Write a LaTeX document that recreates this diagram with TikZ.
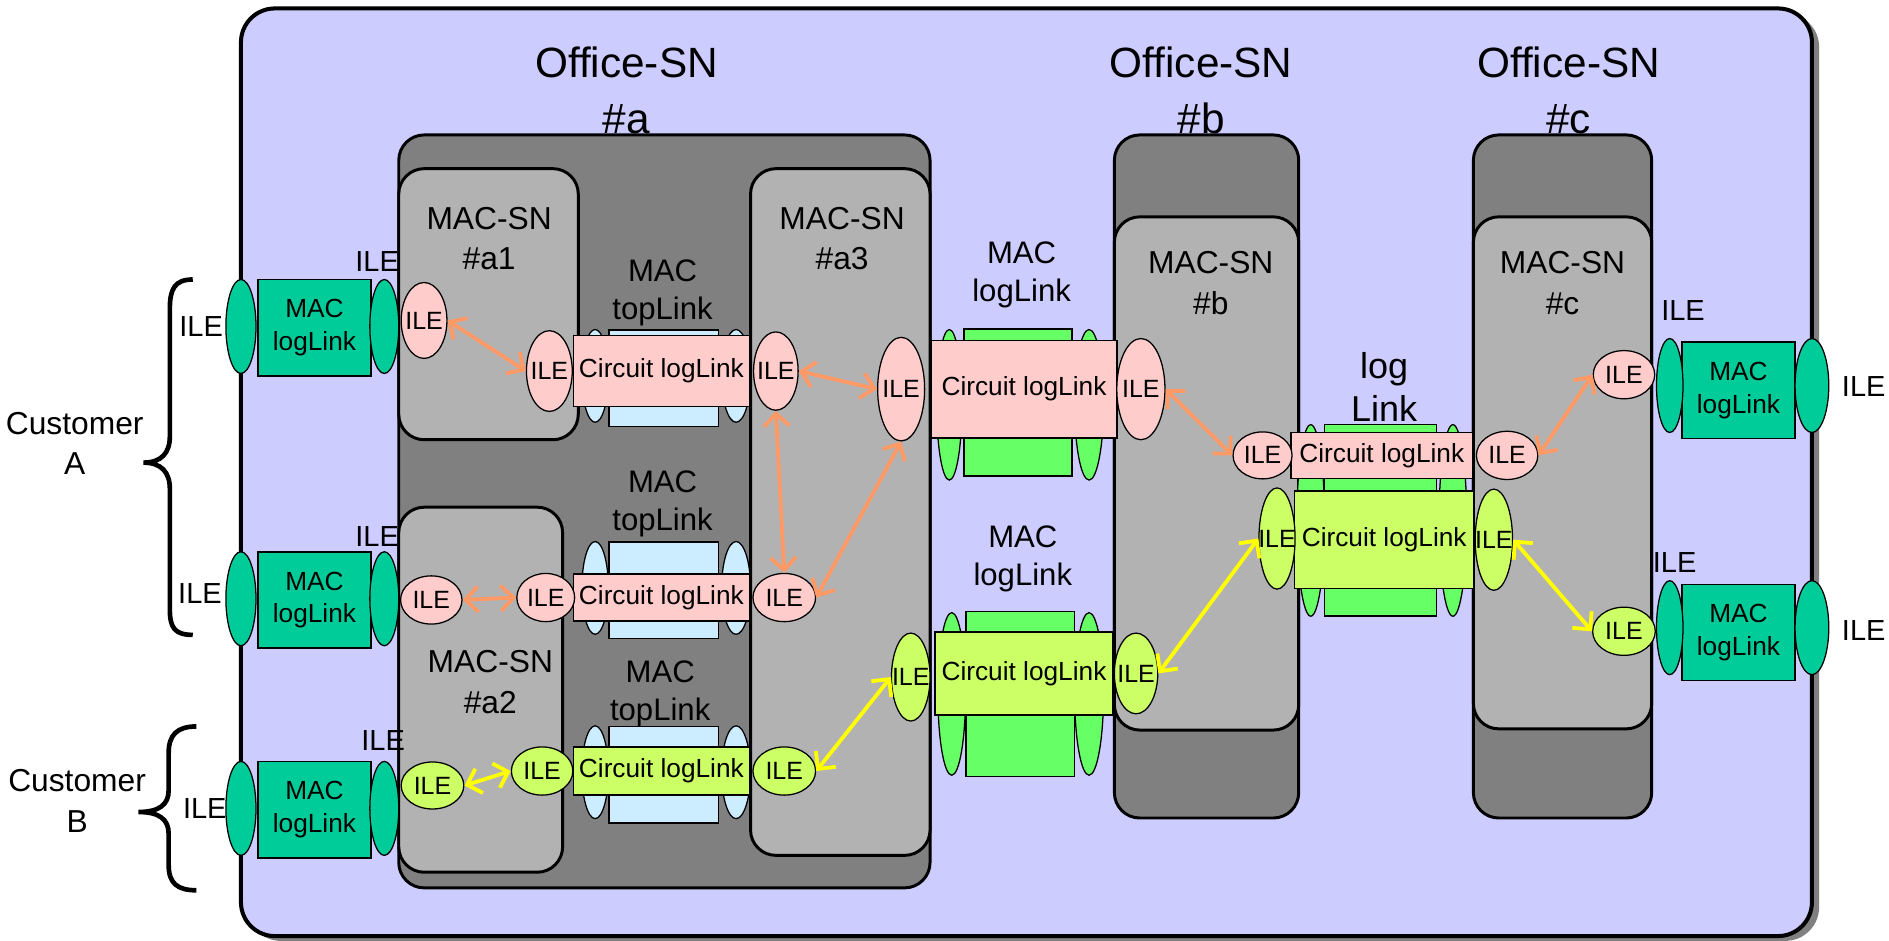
\documentclass[tikz,border=0pt]{standalone}
\usepackage{fontspec}
\setmainfont{Liberation Sans}
\usetikzlibrary{arrows.meta}
\usetikzlibrary{shapes.geometric}

\definecolor{lavender}{HTML}{CCCCFF}
\definecolor{officegray}{HTML}{808080}
\definecolor{macgray}{HTML}{B2B2B2}
\definecolor{pinkile}{HTML}{FFCCCC}
\definecolor{limeile}{HTML}{CCFF66}
\definecolor{macteal}{HTML}{00CC99}
\definecolor{loggreen}{HTML}{66FF66}
\definecolor{topblue}{HTML}{CCECFF}
\definecolor{arrorange}{HTML}{FF9966}
\definecolor{arryellow}{HTML}{FFFF00}

\newcommand{\unitpx}{0.02cm}
\newcommand{\ile}{\makebox[0pt]{ILE}}

\tikzset{
  sz/.style args={#1x#2}{minimum width=#1*\unitpx, minimum height=#2*\unitpx},
  outerbox/.style={draw, line width=1.9pt, fill=lavender, rounded corners=16pt},
  officebox/.style={draw, line width=1.4pt, fill=officegray, rounded corners=12pt},
  macbox/.style={draw, line width=1.4pt, fill=macgray, rounded corners=12pt},
  ileell/.style={ellipse, draw, line width=0.6pt, inner sep=0pt, font=\fontsize{11.8}{13}\selectfont},
  linkell/.style={ellipse, draw, line width=0.6pt, inner sep=0pt},
  linkbox/.style={rectangle, draw, line width=0.7pt, inner sep=0pt, align=center, font=\fontsize{12.4}{15.4}\selectfont},
  officelabel/.style={align=center, font=\fontsize{20}{26}\selectfont},
  maclabel/.style={align=center, font=\fontsize{15}{19.3}\selectfont},
  linklabel/.style={align=center, font=\fontsize{14.7}{18}\selectfont},
  loglabel/.style={align=center, font=\fontsize{17}{20.5}\selectfont},
  ilelabel/.style={inner sep=0pt, font=\fontsize{13.7}{16}\selectfont},
  custlabel/.style={align=center, font=\fontsize{15}{19.3}\selectfont},
  custbrace/.style={line width=2.2pt},
  orangelink/.style={<->, >={Straight Barb[length=6pt,width=12pt]}, line width=1.8pt, draw=arrorange},
  yellowlink/.style={<->, >={Straight Barb[length=6pt,width=12pt]}, line width=1.8pt, draw=arryellow}
}

\begin{document}
\begin{tikzpicture}[x=0.02cm, y=-0.02cm]
  \useasboundingbox (0,0) rectangle (1568,781);

  % domain and switching nodes
  \fill[gray, rounded corners=16pt] (205,11) rectangle (1510,781);
  \draw[outerbox] (200,7) rectangle (1504,777);
  \draw[officebox] (331,112) rectangle (772,737);
  \draw[officebox] (925,112) rectangle (1078,679);
  \draw[officebox] (1223,112) rectangle (1371,679);
  \draw[macbox] (331,140) rectangle (480,365);
  \draw[macbox] (331,421) rectangle (467,724);
  \draw[macbox] (623,140) rectangle (772,710);
  \draw[macbox] (925,180) rectangle (1078,606);
  \draw[macbox] (1223,180) rectangle (1371,605);

  \node[officelabel] (offa) at (520,75) {Office-SN\\\#a};
  \node[officelabel] (offb) at (997,75) {Office-SN\\\#b};
  \node[officelabel] (offc) at (1302,75) {Office-SN\\\#c};
  \node[maclabel] (maca1) at (406,198) {MAC-SN\\\#a1};
  \node[maclabel] (maca2) at (407,566) {MAC-SN\\\#a2};
  \node[maclabel] (maca3) at (699,198) {MAC-SN\\\#a3};
  \node[maclabel] (macb) at (1005,235) {MAC-SN\\\#b};
  \node[maclabel] (macc) at (1297,235) {MAC-SN\\\#c};

  % MAC topLinks inside Office-SN #a
  \foreach \y [count=\i] in {312,488,641} {
    \node[linkbox, fill=topblue, sz=91x80] (tb\i) at (551,\y+2) {};
    \node[linkell, fill=topblue, sz=22x77] (tle\i) at (494,\y) {};
    \node[linkell, fill=topblue, sz=24x77] (tre\i) at (611,\y) {};
  }

  % MAC logLinks to the customers
  \foreach \y [count=\i] in {271,497,671} {
    \node[linkbox, fill=macteal, sz=94x80] (cm\i) at (261,\y+1) {MAC\\logLink};
    \node[linkell, fill=macteal, sz=25x78] (cl\i) at (200,\y) {};
    \node[linkell, fill=macteal, sz=24x78] (cr\i) at (319,\y) {};
  }
  \foreach \y [count=\i] in {320,521} {
    \node[linkbox, fill=macteal, sz=94x80] (em\i) at (1443,\y+4) {MAC\\logLink};
    \node[linkell, fill=macteal, sz=22x78] (el\i) at (1386,\y) {};
    \node[linkell, fill=macteal, sz=28x78] (er\i) at (1504,\y) {};
  }

  % MAC logLinks between offices
  \node[linkell, fill=loggreen, sz=21x125] (ab1l) at (788,336) {};
  \node[linkell, fill=loggreen, sz=24x125] (ab1r) at (904,336) {};
  \node[linkbox, fill=loggreen, sz=90x122] (ab1m) at (845,334) {};
  \node[linkell, fill=loggreen, sz=23x135] (ab2l) at (790,576) {};
  \node[linkell, fill=loggreen, sz=24x135] (ab2r) at (904,576) {};
  \node[linkbox, fill=loggreen, sz=90x137] (ab2m) at (847,576) {};
  \node[linkell, fill=loggreen, sz=23x159] (bcl) at (1088,432) {};
  \node[linkell, fill=loggreen, sz=23x159] (bcr) at (1206,432) {};
  \node[linkbox, fill=loggreen, sz=93x159] (bcm) at (1146,432) {};

  % circuit logLinks
  \node[linkbox, fill=pinkile, sz=146x59] (cir1) at (549,308) {Circuit logLink};
  \node[linkbox, fill=pinkile, sz=146x39] (cir2) at (549,496) {Circuit logLink};
  \node[linkbox, fill=limeile, sz=146x40] (cir3) at (549,640) {Circuit logLink};
  \node[linkbox, fill=pinkile, sz=154x81] (cir4) at (850,323) {Circuit logLink};
  \node[linkbox, fill=limeile, sz=148x69] (cir5) at (850,559) {Circuit logLink};
  \node[linkbox, fill=pinkile, sz=151x38] (cir6) at (1147,378) {Circuit logLink};
  \node[linkbox, fill=limeile, sz=149x81] (cir7) at (1149,448) {Circuit logLink};

  % ILEs
  \node[ileell, fill=pinkile, sz=38x63] (a1l) at (352,266) {\ile};
  \node[ileell, fill=pinkile, sz=38x67] (a1r) at (456,308) {\ile};
  \node[ileell, fill=pinkile, sz=51x40] (a2l) at (358,498) {\ile};
  \node[ileell, fill=pinkile, sz=48x40] (a2r) at (453,496) {\ile};
  \node[ileell, fill=pinkile, sz=37x65] (a3a) at (644,308) {\ile};
  \node[ileell, fill=pinkile, sz=39x86] (a3b) at (748,323) {\ile};
  \node[ileell, fill=pinkile, sz=52x40] (a3c) at (651,496) {\ile};
  \node[ileell, fill=pinkile, sz=40x84] (b1) at (947,323) {\ile};
  \node[ileell, fill=pinkile, sz=49x39] (b2) at (1048,378) {\ile};
  \node[ileell, fill=pinkile, sz=51x40] (c1) at (1251,378) {\ile};
  \node[ileell, fill=pinkile, sz=51x40] (c2) at (1348,311) {\ile};
  \node[ileell, fill=limeile, sz=52x39] (a2yl) at (359,652) {\ile};
  \node[ileell, fill=limeile, sz=51x40] (a2yr) at (450,640) {\ile};
  \node[ileell, fill=limeile, sz=52x40] (a3y) at (651,640) {\ile};
  \node[ileell, fill=limeile, sz=32x73] (a3yr) at (756,562) {\ile};
  \node[ileell, fill=limeile, sz=36x67] (by1) at (943,559) {\ile};
  \node[ileell, fill=limeile, sz=30x84] (by2) at (1060,447) {\ile};
  \node[ileell, fill=limeile, sz=31x84] (cy1) at (1240,448) {\ile};
  \node[ileell, fill=limeile, sz=52x40] (cy2) at (1348,524) {\ile};

  \draw[orangelink] (a1l.east) -- (a1r.west);
  \draw[orangelink] (a2l.east) -- (a2r.west);
  \draw[orangelink] (a3a.east) -- (a3b.west);
  \draw[orangelink] (a3a.south) -- (a3c.north);
  \draw[orangelink] (a3b.south) -- (a3c.east);
  \draw[orangelink] (b1.east) -- (b2.west);
  \draw[orangelink] (c1.east) -- (c2.west);
  \draw[yellowlink] (a2yl.east) -- (a2yr.west);
  \draw[yellowlink] (a3y.east) -- (a3yr.west);
  \draw[yellowlink] (by1.east) -- (by2.west);
  \draw[yellowlink] (cy1.east) -- (cy2.west);

  \node[linklabel] (tl1) at (550,243) {MAC\\topLink};
  \node[linklabel] (tl2) at (550,418) {MAC\\topLink};
  \node[linklabel] (tl3) at (548,576) {MAC\\topLink};
  \node[linklabel] (ll1) at (848,228) {MAC\\logLink};
  \node[linklabel] (ll2) at (849,464) {MAC\\logLink};
  \node[loglabel] (ll3) at (1149,321) {log\\Link};

  \node[ilelabel] (il1) at (313,217) {ILE};
  \node[ilelabel] (il2) at (167,271) {ILE};
  \node[ilelabel] (il3) at (313,445) {ILE};
  \node[ilelabel] (il4) at (166,493) {ILE};
  \node[ilelabel] (il5) at (318,615) {ILE};
  \node[ilelabel] (il6) at (170,671) {ILE};
  \node[ilelabel] (il7) at (1397,258) {ILE};
  \node[ilelabel] (il8) at (1547,321) {ILE};
  \node[ilelabel] (il9) at (1390,467) {ILE};
  \node[ilelabel] (il10) at (1547,523) {ILE};

  % customers
  \draw[custbrace] (160,232) .. controls (145,232) and (141,240) .. (141,256) -- (141,362)
    .. controls (141,376) and (134,384) .. (119,384) .. controls (134,384) and (141,392) .. (141,406)
    -- (141,506) .. controls (141,521) and (145,527) .. (160,527);
  \draw[custbrace] (163,603) .. controls (147,603) and (140,610) .. (140,625) -- (140,656)
    .. controls (140,668) and (132,674) .. (115,674) .. controls (132,674) and (140,680) .. (140,692)
    -- (140,718) .. controls (140,733) and (147,739) .. (163,739);
  \node[custlabel] (custa) at (62,368) {Customer\\A};
  \node[custlabel] (custb) at (64,665) {Customer\\B};
\end{tikzpicture}
\end{document}
